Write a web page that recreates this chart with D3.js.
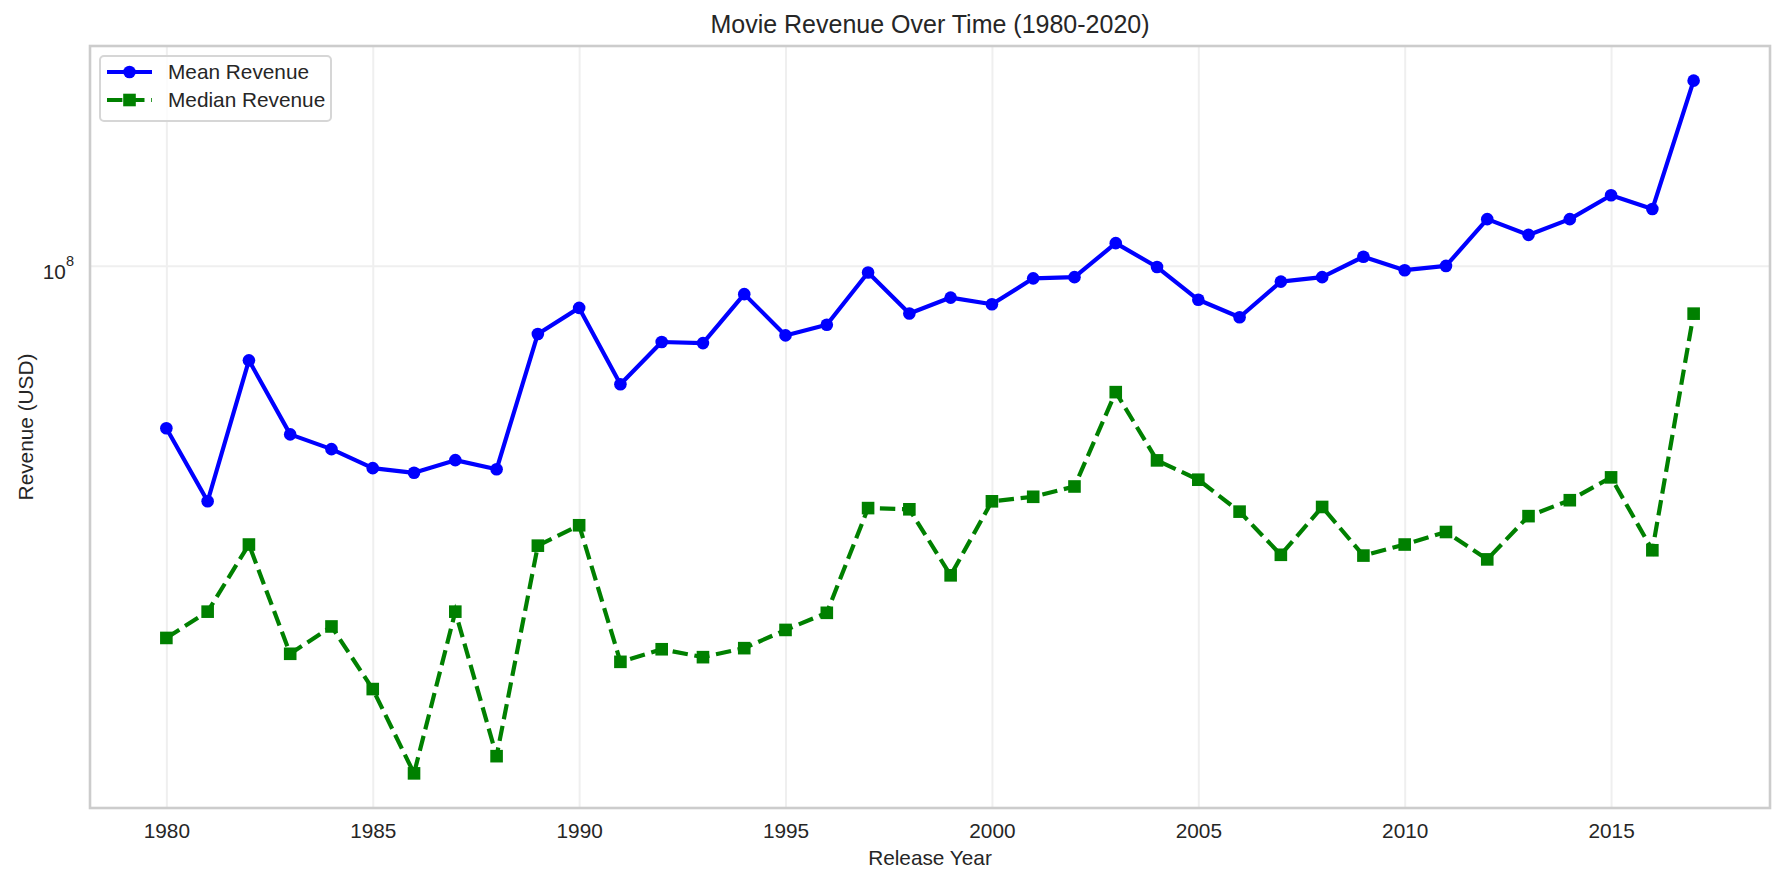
<!DOCTYPE html>
<html>
<head>
<meta charset="utf-8">
<script src="https://cdn.jsdelivr.net/npm/d3@7"></script>
<style>
    body { margin: 0; background: #fff; }
    text { font-family: "Liberation Sans", Arial, sans-serif; fill: #262626; }
    .grid line { stroke: #efefef; stroke-width: 2; }
    .grid .domain { display: none; }
</style>
</head>
<body>
<svg id="chart"></svg>
<script>
// release years 1980-2017
const years = [
    1980, 1981, 1982, 1983, 1984, 1985, 1986, 1987, 1988, 1989,
    1990, 1991, 1992, 1993, 1994, 1995, 1996, 1997, 1998, 1999,
    2000, 2001, 2002, 2003, 2004, 2005, 2006, 2007, 2008, 2009,
    2010, 2011, 2012, 2013, 2014, 2015, 2016, 2017
];

const meanRevenue = [
    5.62e7, 4.34e7, 7.15e7, 5.50e7, 5.22e7, 4.88e7, 4.80e7, 5.02e7, 4.86e7, 7.85e7,
    8.61e7, 6.57e7, 7.63e7, 7.60e7, 9.04e7, 7.81e7, 8.11e7, 9.76e7, 8.44e7, 8.93e7,
    8.72e7, 9.56e7, 9.60e7, 1.083e8, 9.95e7, 8.86e7, 8.33e7, 9.45e7, 9.60e7, 1.032e8,
    9.84e7, 9.99e7, 1.179e8, 1.115e8, 1.179e8, 1.283e8, 1.222e8, 1.926e8
];

const medianRevenue = [
    2.674e7, 2.935e7, 3.723e7, 2.528e7, 2.785e7, 2.231e7, 1.655e7, 2.935e7, 1.759e7, 3.708e7,
    3.986e7, 2.457e7, 2.569e7, 2.498e7, 2.579e7, 2.751e7, 2.923e7, 4.236e7, 4.218e7, 3.338e7,
    4.339e7, 4.409e7, 4.573e7, 6.388e7, 5.016e7, 4.684e7, 4.183e7, 3.590e7, 4.253e7, 3.580e7,
    3.723e7, 3.892e7, 3.532e7, 4.117e7, 4.356e7, 4.723e7, 3.648e7, 8.436e7
];

const xTicks = [1980, 1985, 1990, 1995, 2000, 2005, 2010, 2015];
const yTicks = [1e8];

const seriesNames = ["Mean Revenue", "Median Revenue"];

const size = {width: 1785, height: 884};
const margin = {left: 90, right: 15, top: 46, bottom: 76};
const w = size.width - margin.left - margin.right;
const h = size.height - margin.top - margin.bottom;

const svg = d3.select("#chart")
    .attr("width", size.width)
    .attr("height", size.height);

// matplotlib style 5% padding
const xExt = d3.extent(years);
const xPad = (xExt[1] - xExt[0]) * 0.05;
const x = d3.scaleLinear()
    .domain([xExt[0] - xPad, xExt[1] + xPad])
    .range([0, w]);

const allVals = meanRevenue.concat(medianRevenue);
const lo = Math.log10(d3.min(allVals)), hi = Math.log10(d3.max(allVals));
const yPad = (hi - lo) * 0.05;
const y = d3.scaleLog()
    .domain([Math.pow(10, lo - yPad), Math.pow(10, hi + yPad)])
    .range([h, 0]);

const paper = svg.append("g")
    .attr("transform", `translate(${margin.left},${margin.top})`);

// grid + tick labels
const xAxis = paper.append("g")
    .attr("class", "grid")
    .attr("transform", `translate(0,${h})`)
    .call(d3.axisBottom(x).tickValues(xTicks).tickFormat(d3.format("d"))
        .tickSizeInner(-h).tickSizeOuter(0).tickPadding(15));
xAxis.selectAll("text")
    .attr("font-size", 20.8)
    .style("fill", "#262626");

const yAxis = paper.append("g")
    .attr("class", "grid")
    .call(d3.axisLeft(y).tickValues(yTicks)
        .tickSizeInner(-w).tickSizeOuter(0).tickPadding(16));
yAxis.selectAll("text")
    .attr("font-size", 20.8)
    .attr("dy", 13)
    .style("fill", "#262626")
    .each(function (d) {
        const t = d3.select(this).text("");
        t.append("tspan").text("10");
        t.append("tspan").attr("dy", -13.5).attr("font-size", 14.5).text(Math.round(Math.log10(d)));
    });

// frame
paper.append("rect")
    .attr("width", w)
    .attr("height", h)
    .attr("fill", "none")
    .attr("stroke", "#cccccc")
    .attr("stroke-width", 2.6);

const line = d3.line()
    .x((d, i) => x(years[i]))
    .y((d) => y(d));

// mean
paper.append("path")
    .datum(meanRevenue)
    .attr("fill", "none")
    .attr("stroke", "#0000ff")
    .attr("stroke-width", 4.2)
    .attr("stroke-linejoin", "round")
    .attr("d", line);
paper.selectAll(".mean-dot")
    .data(meanRevenue)
    .join("circle")
    .attr("class", "mean-dot")
    .attr("cx", (d, i) => x(years[i]))
    .attr("cy", (d) => y(d))
    .attr("r", 6.3)
    .attr("fill", "#0000ff");

// median
paper.append("path")
    .datum(medianRevenue)
    .attr("fill", "none")
    .attr("stroke", "#008000")
    .attr("stroke-width", 4.2)
    .attr("stroke-dasharray", "15.4,6.7")
    .attr("d", line);
paper.selectAll(".median-sq")
    .data(medianRevenue)
    .join("rect")
    .attr("class", "median-sq")
    .attr("x", (d, i) => x(years[i]) - 6.3)
    .attr("y", (d) => y(d) - 6.3)
    .attr("width", 12.6)
    .attr("height", 12.6)
    .attr("fill", "#008000");

// legend
const legend = paper.append("g").attr("transform", "translate(10,10)");
legend.append("rect")
    .attr("width", 231)
    .attr("height", 65)
    .attr("rx", 4)
    .attr("fill", "#fff")
    .attr("fill-opacity", 0.8)
    .attr("stroke", "#d6d6d6")
    .attr("stroke-width", 2);

const row1 = legend.append("g").attr("transform", "translate(0,16)");
row1.append("line").attr("x1", 7).attr("x2", 52)
    .attr("stroke", "#0000ff").attr("stroke-width", 4.2);
row1.append("circle").attr("cx", 29.5).attr("r", 6.3).attr("fill", "#0000ff");
row1.append("text").attr("x", 68).attr("dy", "0.35em").attr("font-size", 20.8).text(seriesNames[0]);

const row2 = legend.append("g").attr("transform", "translate(0,44)");
row2.append("line").attr("x1", 7).attr("x2", 52)
    .attr("stroke", "#008000").attr("stroke-width", 4.2)
    .attr("stroke-dasharray", "15.4,6.7");
row2.append("rect").attr("x", 23.2).attr("y", -6.3).attr("width", 12.6).attr("height", 12.6)
    .attr("fill", "#008000");
row2.append("text").attr("x", 68).attr("dy", "0.35em").attr("font-size", 20.8).text(seriesNames[1]);

// titles
svg.append("text")
    .attr("x", margin.left + w / 2)
    .attr("y", 33)
    .attr("text-anchor", "middle")
    .attr("font-size", 25)
    .text("Movie Revenue Over Time (1980-2020)");

svg.append("text")
    .attr("x", margin.left + w / 2)
    .attr("y", 865)
    .attr("text-anchor", "middle")
    .attr("font-size", 20.8)
    .text("Release Year");

svg.append("text")
    .attr("transform", `translate(33,${margin.top + h / 2}) rotate(-90)`)
    .attr("text-anchor", "middle")
    .attr("font-size", 20.8)
    .text("Revenue (USD)");
</script>
</body>
</html>
